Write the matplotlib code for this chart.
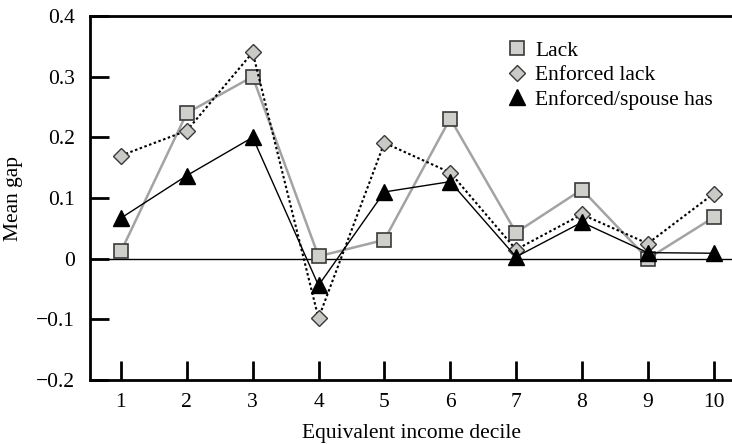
import matplotlib
matplotlib.use("Agg")
import matplotlib.pyplot as plt
from matplotlib.lines import Line2D

deciles = [1, 2, 3, 4, 5, 6, 7, 8, 9, 10]
lack = [0.012, 0.24, 0.30, 0.004, 0.031, 0.231, 0.043, 0.114, 0.0, 0.068]
enforced_lack = [0.17, 0.211, 0.34, -0.098, 0.191, 0.142, 0.015, 0.073, 0.025, 0.107]
enforced_spouse = [0.067, 0.137, 0.20, -0.044, 0.11, 0.127, 0.003, 0.06, 0.01, 0.009]

plt.rcParams["font.family"] = ["Liberation Serif", "DejaVu Serif"]
plt.rcParams["font.size"] = 15.5

fig = plt.figure(figsize=(7.32, 4.44), dpi=100)
ax = fig.add_axes([0.123, 0.144, 0.877, 0.82])

ax.axhline(0, color="black", lw=1.0, zorder=1)

ax.plot(deciles, lack, color="#a3a3a3", lw=1.8, marker="s", ms=10.5,
        mfc="#cfcfcb", mec="#3a3a3a", mew=1.2, zorder=2)
ax.plot(deciles, enforced_lack, color="black", lw=1.5, ls=(0, (1.2, 1.2)),
        marker="D", ms=8, mfc="#c9c9c6", mec="#3a3a3a", mew=1.0, zorder=3)
ax.plot(deciles, enforced_spouse, color="black", lw=1.0, marker="^", ms=12,
        mfc="black", mec="black", zorder=4)

ax.set_xlim(0.53, 10.28)
ax.set_ylim(-0.2, 0.4)
ax.set_xticks(deciles)
ax.set_yticks([-0.2, -0.1, 0, 0.1, 0.2, 0.3, 0.4])
ax.set_yticklabels(["\u22120.2", "\u22120.1", "0", "0.1", "0.2", "0.3", "0.4"])

for s in ["left", "bottom", "top"]:
    ax.spines[s].set_linewidth(2)
ax.spines["right"].set_visible(False)
ax.tick_params(direction="in", length=14, width=2, pad=9)
ax.tick_params(axis="y", pad=11)

ax.set_xlabel("Equivalent income decile", labelpad=9)
ax.set_ylabel("Mean gap", labelpad=9)

handles = [
    Line2D([], [], ls="none", marker="s", ms=10.5, mfc="#cfcfcb", mec="#3a3a3a", mew=1.2),
    Line2D([], [], ls="none", marker="D", ms=8, mfc="#c9c9c6", mec="#3a3a3a", mew=1.0),
    Line2D([], [], ls="none", marker="^", ms=12, mfc="black", mec="black"),
]
ax.legend(handles, ["Lack", "Enforced lack", "Enforced/spouse has"],
          loc="upper left", bbox_to_anchor=(0.615, 0.985), frameon=False,
          handletextpad=0.25, labelspacing=0.2, handlelength=1.2)

fig.savefig("out.png", dpi=100)
